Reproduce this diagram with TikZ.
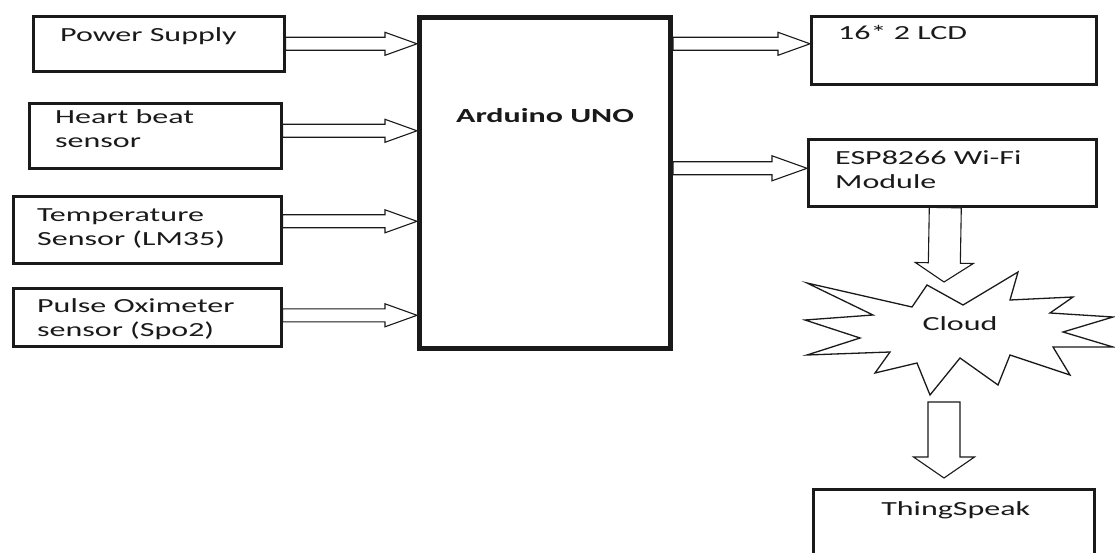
\documentclass[tikz,border=0pt]{standalone}
\usepackage{fontspec}
\setmainfont{Carlito}[FakeStretch=1.6]
\usepackage{xcolor}
\definecolor{ink}{HTML}{1A1A1A}
\usepackage{tikz}
\usetikzlibrary{positioning,calc}
\tikzset{
  blk/.style={draw=ink,fill=white,line width=2.6pt,anchor=north west,inner sep=0pt},
  core/.style={blk,line width=5pt},
  txt/.style={font=\fontsize{20}{24}\selectfont,text=ink,inner sep=0pt,align=left},
  arr/.style={draw=ink,fill=white,line width=1.1pt,line join=miter},
  burst/.style={draw=ink,fill=white,line width=1.3pt,line join=miter},
}
% hollow block arrow: shaft half, head half, head length, from, to
\newcommand{\hollowarrow}[5]{%
  \coordinate (ha-s) at (#4);
  \coordinate (ha-e) at (#5);
  \coordinate (ha-b) at ($(ha-e)!#3!(ha-s)$);
  \draw[arr] ($(ha-s)!#1!90:(ha-e)$) -- ($(ha-b)!#1!-90:(ha-s)$)
    -- ($(ha-b)!#2!-90:(ha-s)$) -- (ha-e) -- ($(ha-b)!#2!90:(ha-s)$)
    -- ($(ha-b)!#1!90:(ha-s)$) -- ($(ha-s)!#1!-90:(ha-e)$) -- cycle;
}

\begin{document}
\begin{tikzpicture}[x=1pt,y=-1pt]
  \useasboundingbox (0,0) rectangle (1115,553);
  \clip (0,0) rectangle (1115,553);
  \fill[white] (0,0) rectangle (1115,553);
  % inputs
  \node[blk,minimum width=251pt,minimum height=55pt] (ps) at (32,15) {};
  \node[blk,minimum width=252pt,minimum height=65pt] (hb) at (28,102) {};
  \node[blk,minimum width=268pt,minimum height=67pt] (ts) at (12,195) {};
  \node[blk,minimum width=268pt,minimum height=58pt] (po) at (12,287) {};
  \node[txt,anchor=base west] (pst) at ([shift={(28,27)}]ps.north west) {Power Supply};
  \node[txt,anchor=north west] (hbt) at ([shift={(27,7)}]hb.north west) {Heart beat\\sensor};
  \node[txt,anchor=north west] (tst) at ([shift={(25,13)}]ts.north west) {Temperature\\Sensor (LM35)};
  \node[txt,anchor=north west] (pot) at ([shift={(25,11)}]po.north west) {Pulse Oximeter\\sensor (Spo2)};
  % controller
  \node[core,minimum width=251pt,minimum height=331pt] (ard) at (417,15) {};
  \node[txt,font=\fontsize{20}{24}\selectfont\bfseries,anchor=base] (ardt) at ([shift={(0,108)}]ard.north) {Arduino UNO};
  % outputs
  \node[blk,minimum width=285pt,minimum height=68pt] (lcd) at (810,15) {};
  \node[blk,minimum width=288pt,minimum height=67pt] (esp) at (807,138) {};
  \node[blk,minimum width=281pt,minimum height=90pt] (tsp) at (812,488) {};
  \node[txt,anchor=base west] (lcdt) at ([shift={(28,25)}]lcd.north west) {16* 2 LCD};
  \node[txt,anchor=north west] (espt) at ([shift={(28,13)}]esp.north west) {ESP8266 Wi-Fi\\Module};
  \node[txt,anchor=base] (tspt) at ([shift={(2,27)}]tsp.north) {ThingSpeak};
  % cloud burst
  \draw[burst] (807,283) -- (873,315) -- (805,320) -- (860,338) -- (807,355) -- (890,352)
    -- (875,373) -- (917,363) -- (930,395) -- (960,358) -- (998,385) -- (1010,355)
    -- (1070,375) -- (1053,347) -- (1113,347) -- (1063,332) -- (1113,317) -- (1050,313)
    -- (1073,297) -- (1010,300) -- (1018,272) -- (963,305) -- (927,285) -- (912,307) -- cycle;
  \node[txt,anchor=base] (cloud) at (960,330) {Cloud};
  \coordinate (espin) at ([yshift=4.5pt]esp.west);
  \coordinate (cin) at (944,282);
  \coordinate (cout) at (944,402);
  \coordinate (tin) at (944,478);
  % arrows
  \hollowarrow{6.5pt}{11.5pt}{32pt}{ps.east}{ard.west |- ha-s}
  \hollowarrow{6.5pt}{11.5pt}{32pt}{[yshift=5pt]hb.east}{ard.west |- ha-s}
  \hollowarrow{6.5pt}{11.5pt}{32pt}{[yshift=8.5pt]ts.east}{ard.west |- ha-s}
  \hollowarrow{6.5pt}{11.5pt}{32pt}{[yshift=2pt]po.east}{ard.west |- ha-s}
  \hollowarrow{6.5pt}{11.5pt}{32pt}{ard.east |- ps.east}{lcd.west |- ha-s}
  \hollowarrow{6.5pt}{12.5pt}{35pt}{ard.east |- espin}{espin}
  \hollowarrow{16pt}{29pt}{19pt}{[xshift=-7pt]esp.south}{cin}
  \hollowarrow{16pt}{30.5pt}{21pt}{cout}{tin}
\end{tikzpicture}
\end{document}
